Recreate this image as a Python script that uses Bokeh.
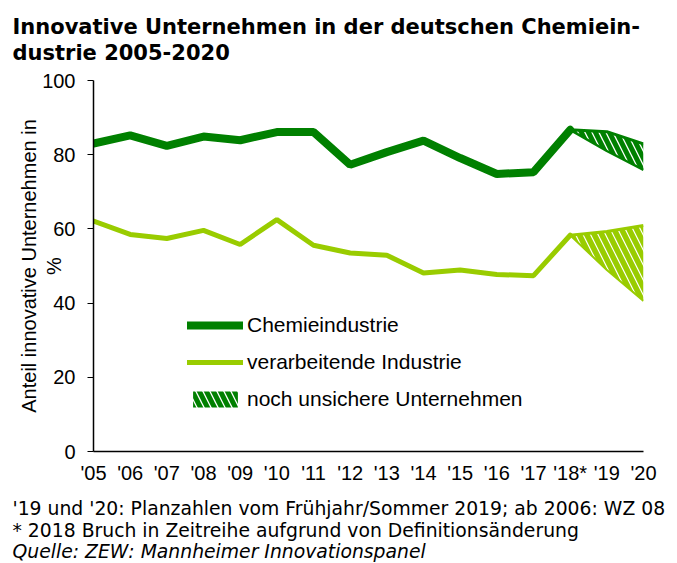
from bokeh.plotting import figure
from bokeh.models import Range1d, FixedTicker, Legend, LegendItem, Title
from bokeh.embed import file_html
from bokeh.resources import INLINE

# ---- data -------------------------------------------------------------
years = ["'05", "'06", "'07", "'08", "'09", "'10", "'11", "'12", "'13",
         "'14", "'15", "'16", "'17", "'18*", "'19", "'20"]
chemie = [83.0, 85.2, 82.4, 84.9, 83.9, 86.1, 86.1, 77.3, 80.7, 83.8,
          79.1, 74.8, 75.3, 86.7]
verarbeitend = [62.1, 58.5, 57.4, 59.6, 55.8, 62.5, 55.6, 53.5, 52.9, 48.1,
                48.9, 47.7, 47.4, 58.3]
plan_years = ["'18*", "'19", "'20"]
chemie_plan_hoch = [86.7, 86.2, 82.9]
chemie_plan_tief = [86.7, 81.0, 75.9]
verarb_plan_hoch = [58.3, 59.3, 60.9]
verarb_plan_tief = [58.3, 48.9, 40.6]
y_ticks = [0, 20, 40, 60, 80, 100]

title_lines = ["Innovative Unternehmen in der deutschen Chemiein-",
               "dustrie 2005-2020"]
y_label_lines = ["Anteil innovative Unternehmen in", "%"]
notes = ["'19 und '20: Planzahlen vom Frühjahr/Sommer 2019; ab 2006: WZ 08",
         "* 2018 Bruch in Zeitreihe aufgrund von Definitionsänderung",
         "Quelle: ZEW: Mannheimer Innovationspanel"]
legend_labels = ["Chemieindustrie", "verarbeitende Industrie",
                 "noch unsichere Unternehmen"]

DARK = "#008000"
LIGHT = "#99CC00"

x_main = list(range(len(chemie)))
x_plan = [years.index(y) for y in plan_years]

W, H = 677, 563
FR_L, FR_R, FR_T, FR_B = 93, 643, 80, 451   # frame on the page

p = figure(width=W, height=H, output_backend="svg", toolbar_location=None,
           title=None, x_range=Range1d(0, len(years) - 1), y_range=Range1d(0, 100),
           min_border_left=FR_L, min_border_right=W - FR_R, min_border_top=FR_T,
           min_border_bottom=H - FR_B)
p.outline_line_color = None
p.xgrid.visible = False
p.ygrid.visible = False

# axes
p.yaxis.ticker = FixedTicker(ticks=y_ticks)
p.yaxis.major_label_text_font = "Liberation Sans"
p.yaxis.major_label_text_font_size = "20px"
p.yaxis.major_label_text_color = "black"
p.yaxis.major_tick_out = 6
p.yaxis.major_tick_in = 0
p.yaxis.minor_tick_out = 0
p.yaxis.minor_tick_in = 0
p.yaxis.major_label_standoff = 12
p.yaxis.axis_line_color = "black"
p.yaxis.axis_line_width = 1.5
p.yaxis.major_tick_line_color = "black"
p.yaxis.axis_label = "\n".join(y_label_lines)
p.yaxis.axis_label_text_font = "Liberation Sans"
p.yaxis.axis_label_text_font_size = "20px"
p.yaxis.axis_label_text_font_style = "normal"
p.yaxis.axis_label_text_color = "black"
p.yaxis.axis_label_text_align = "center"
p.yaxis.axis_label_text_line_height = 1.15
p.yaxis.axis_label_standoff = -26

p.xaxis.ticker = FixedTicker(ticks=list(range(len(years))))
p.xaxis.major_label_overrides = {i: y for i, y in enumerate(years)}
p.xaxis.major_label_text_font = "Liberation Sans"
p.xaxis.major_label_text_font_size = "20px"
p.xaxis.major_label_text_color = "black"
p.xaxis.major_tick_out = 0
p.xaxis.major_tick_in = 0
p.xaxis.minor_tick_out = 0
p.xaxis.minor_tick_in = 0
p.xaxis.major_label_standoff = 10
p.xaxis.axis_line_color = "black"
p.xaxis.axis_line_width = 1.5

# hatched uncertain areas
r_hatch_c = p.patch(x_plan + x_plan[::-1], chemie_plan_hoch + chemie_plan_tief[::-1],
                    fill_color=None, line_color=None, hatch_pattern="\\",
                    hatch_color=DARK, hatch_scale=14, hatch_weight=5)
p.patch(x_plan + x_plan[::-1], verarb_plan_hoch + verarb_plan_tief[::-1],
        fill_color=None, line_color=None, hatch_pattern="\\",
        hatch_color=LIGHT, hatch_scale=15, hatch_weight=5.5)
p.line(x_plan, chemie_plan_hoch, line_color=DARK, line_width=3)
p.line(x_plan, chemie_plan_tief, line_color=DARK, line_width=2.5)
p.line(x_plan, verarb_plan_hoch, line_color=LIGHT, line_width=3)
p.line(x_plan, verarb_plan_tief, line_color=LIGHT, line_width=2)

# main lines
r_chem = p.line(x_main, chemie, line_color=DARK, line_width=8, line_cap="round")
r_verarb = p.line(x_main, verarbeitend, line_color=LIGHT, line_width=5, line_cap="round")

legend = Legend(items=[LegendItem(label=legend_labels[0], renderers=[r_chem]),
                       LegendItem(label=legend_labels[1], renderers=[r_verarb]),
                       LegendItem(label=legend_labels[2], renderers=[r_hatch_c])],
                location=(94, 40), glyph_width=56, glyph_height=20,
                label_height=20, label_standoff=4, spacing=13, padding=0,
                margin=0, border_line_color=None, background_fill_alpha=0,
                label_text_font="Liberation Sans", label_text_font_size="21px",
                label_text_color="black")
p.add_layout(legend)

# two-line title (above panel)
p.add_layout(Title(text="\n".join(title_lines), align="left", offset=12 - FR_L,
                   vertical_align="top", standoff=26, text_line_height=1.105,
                   text_font="DejaVu Sans", text_font_style="bold",
                   text_font_size="21px", text_color="black"), "above")

# footnotes (below panel, after the x axis)
p.add_layout(Title(text="\n".join(notes[:2]), align="left", offset=12 - FR_L,
                   standoff=18, text_line_height=1.08,
                   text_font="DejaVu Sans", text_font_size="18.8px",
                   text_font_style="normal", text_color="black"), "below")
p.add_layout(Title(text=notes[2], align="left", offset=12 - FR_L,
                   vertical_align="top", standoff=-20,
                   text_font="DejaVu Sans", text_font_size="18.8px",
                   text_font_style="italic", text_color="black"), "below")

open("out.html", "w").write(file_html(p, INLINE))
